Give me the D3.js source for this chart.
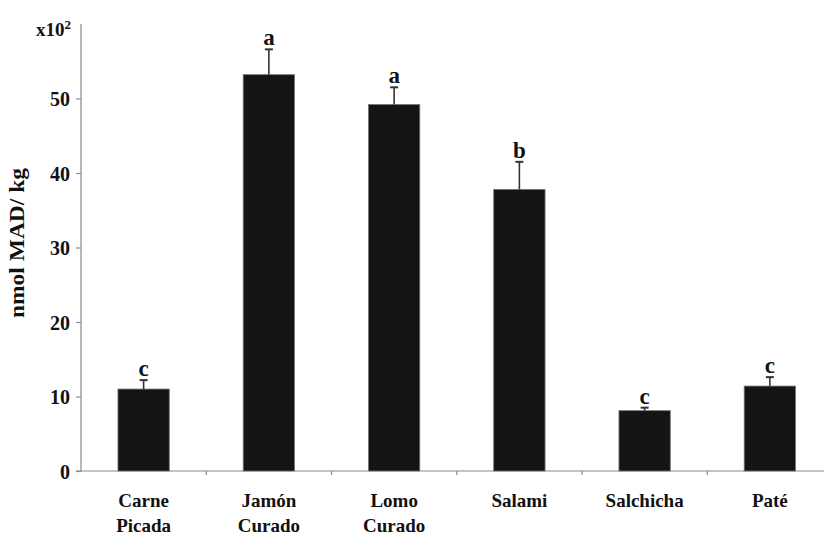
<!DOCTYPE html>
<html>
<head>
<meta charset="utf-8">
<script src="https://cdn.jsdelivr.net/npm/d3@7"></script>
<style>
  html, body { margin: 0; padding: 0; background: #fff; }
  svg { display: block; }
  text { font-family: "Liberation Serif", "Times New Roman", serif; font-weight: bold; fill: #111; }
</style>
</head>
<body>
<svg id="chart" width="824" height="536" font-family="Liberation Serif, Times New Roman, serif"></svg>
<script>
// MAD content by product (x10^2 nmol/kg)
const categories = [["Carne", "Picada"], ["Jamón", "Curado"], ["Lomo", "Curado"], ["Salami"], ["Salchicha"], ["Paté"]];
const means = [11.0, 53.2, 49.2, 37.8, 8.1, 11.4];
const errors = [1.2, 3.4, 2.3, 3.7, 0.4, 1.2];
const groups = ["c", "a", "a", "b", "c", "c"];
const yTicks = [0, 10, 20, 30, 40, 50];

const serif = "Liberation Serif, Times New Roman, serif";
const svg = d3.select("#chart");
const plotLeft = 81, plotBottom = 471, plotTop = 24;
const step = 125.25;

const keys = categories.map(c => c.join(" "));
const x = d3.scaleBand()
  .domain(keys)
  .range([plotLeft, plotLeft + step * categories.length])
  .paddingInner(0.59)
  .paddingOuter(0.295);

const y = d3.scaleLinear().domain([0, 60]).range([plotBottom, plotTop]);

// y axis
const yAxis = svg.append("g").attr("transform", `translate(${plotLeft},0)`)
  .call(d3.axisLeft(y).tickValues(yTicks).tickSize(5).tickPadding(6).tickFormat(d3.format("d")));
yAxis.attr("font-family", serif).attr("font-size", 20);
yAxis.select(".domain").attr("stroke", "#8a8a8a").attr("stroke-width", 1.2).attr("d", `M-5,${plotBottom}H0V${plotTop}`);
yAxis.selectAll(".tick line").attr("stroke", "#8a8a8a").attr("stroke-width", 1.2);
yAxis.selectAll(".tick text").attr("fill", "#111").attr("dy", "0.36em");

// x axis: boundaries between categories
const bounds = d3.range(1, categories.length).map(i => plotLeft + i * x.step());
const xg = svg.append("g");
xg.append("line")
  .attr("x1", plotLeft).attr("x2", 824)
  .attr("y1", plotBottom).attr("y2", plotBottom)
  .attr("stroke", "#8a8a8a").attr("stroke-width", 1.2);
xg.selectAll("line.tk").data(bounds).join("line").attr("class", "tk")
  .attr("x1", d => d).attr("x2", d => d)
  .attr("y1", plotBottom).attr("y2", plotBottom + 4)
  .attr("stroke", "#8a8a8a").attr("stroke-width", 1.2);

// category labels
const lab = svg.append("g").selectAll("text").data(categories).join("text")
  .attr("text-anchor", "middle")
  .attr("font-size", 19)
  .attr("x", (d, i) => x(keys[i]) + x.bandwidth() / 2)
  .attr("y", 507);
lab.selectAll("tspan").data(d => d).join("tspan")
  .attr("x", function() { return d3.select(this.parentNode).attr("x"); })
  .attr("dy", (d, i) => i === 0 ? 0 : 25)
  .text(d => d);

// bars
svg.append("g").selectAll("rect").data(means).join("rect")
  .attr("x", (d, i) => x(keys[i]))
  .attr("width", x.bandwidth())
  .attr("y", d => y(d))
  .attr("height", d => plotBottom - y(d))
  .attr("fill", "#141414")
  .attr("stroke", "#777")
  .attr("stroke-width", 0.8);

// upper error whiskers
const eg = svg.append("g").attr("stroke", "#333").attr("stroke-width", 1.6);
means.forEach((m, i) => {
  const cx = x(keys[i]) + x.bandwidth() / 2;
  eg.append("line").attr("x1", cx).attr("x2", cx).attr("y1", y(m)).attr("y2", y(m + errors[i]));
  eg.append("line").attr("x1", cx - 4).attr("x2", cx + 4).attr("y1", y(m + errors[i])).attr("y2", y(m + errors[i])).attr("stroke-width", 2);
});

// significance letters
svg.append("g").selectAll("text").data(groups).join("text")
  .attr("text-anchor", "middle")
  .attr("font-size", 23)
  .attr("x", (d, i) => x(keys[i]) + x.bandwidth() / 2)
  .attr("y", (d, i) => y(means[i] + errors[i]) - 4)
  .text(d => d);

// scale factor
const sf = svg.append("text").attr("x", 36).attr("y", 36).attr("font-size", 19);
sf.append("tspan").text("x10");
sf.append("tspan").attr("font-size", 13).attr("dy", -7).text("2");

// y axis title
svg.append("text")
  .attr("transform", "translate(24,243) rotate(-90)")
  .attr("text-anchor", "middle")
  .attr("font-size", 21)
  .attr("textLength", 150)
  .attr("lengthAdjust", "spacingAndGlyphs")
  .text("nmol MAD/ kg");
</script>
</body>
</html>
